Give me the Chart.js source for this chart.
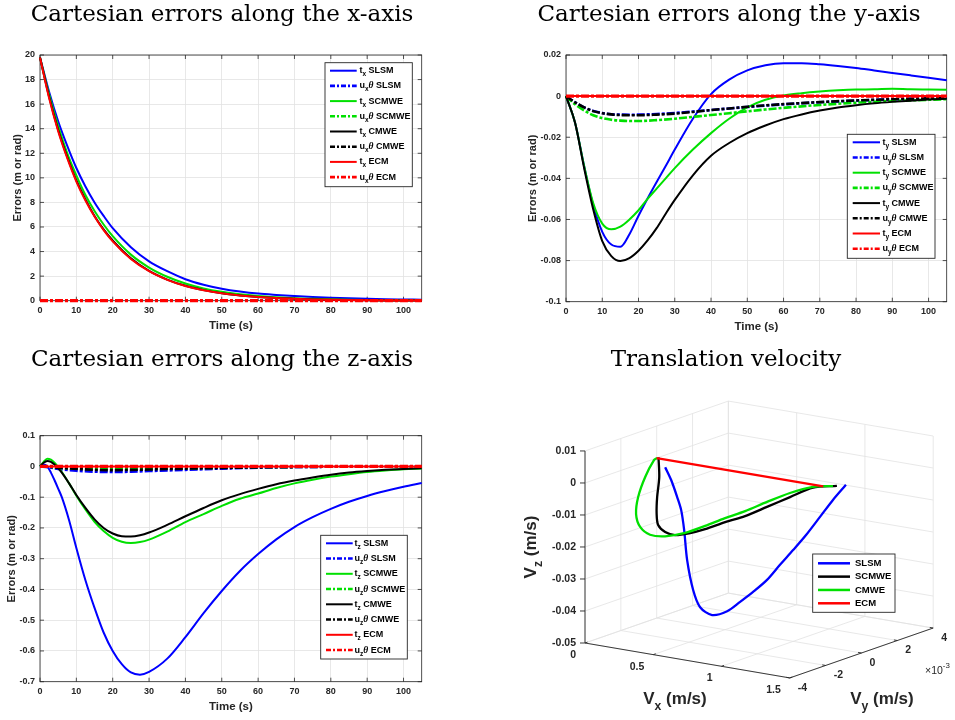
<!DOCTYPE html>
<html><head><meta charset="utf-8">
<script src="https://cdn.jsdelivr.net/npm/chart.js@4.4.1/dist/chart.umd.min.js"></script>
<style>
html,body{margin:0;padding:0;background:#fff}
#wrap{position:relative;width:955px;height:720px;overflow:hidden;background:#fff}
canvas{position:absolute}
</style></head><body><div id="wrap">
<canvas id="c1" width="477" height="340" style="left:0;top:0"></canvas>
<canvas id="c2" width="478" height="340" style="left:477px;top:0"></canvas>
<canvas id="c3" width="477" height="380" style="left:0;top:340px"></canvas>
<canvas id="c4" width="478" height="380" style="left:477px;top:340px"></canvas>
</div>
<script>
// ---------------- DATA ----------------
const timeTicks = [0,10,20,30,40,50,60,70,80,90,100];
const uTimeFlat = [0,105];

// Panel 1: errors along x
const errXTicks = [0,2,4,6,8,10,12,14,16,18,20];
const timeX = [0,2.5,5,7.5,10,12.5,15,17.5,20,25,30,35,40,45,50,55,60,65,70,75,80,85,90,95,100,105];
const tx_SLSM  = [19.8,17.0,14.6,12.6,10.8,9.3,8.0,6.9,5.9,4.35,3.2,2.4,1.75,1.3,0.98,0.75,0.58,0.47,0.38,0.30,0.24,0.19,0.15,0.12,0.10,0.08];
const tx_SCMWE = [19.8,16.8,14.2,12.0,10.2,8.6,7.3,6.2,5.25,3.75,2.7,1.95,1.4,1.0,0.72,0.52,0.38,0.28,0.20,0.15,0.11,0.08,0.06,0.045,0.035,0.03];
const tx_CMWE  = [19.8,16.6,13.9,11.7,9.8,8.25,6.9,5.8,4.9,3.45,2.43,1.72,1.21,0.86,0.6,0.43,0.3,0.21,0.15,0.105,0.075,0.053,0.037,0.026,0.019,0.013];
const tx_ECM   = [19.8,16.5,13.8,11.6,9.7,8.15,6.85,5.75,4.83,3.4,2.4,1.7,1.2,0.85,0.6,0.43,0.3,0.21,0.15,0.105,0.075,0.053,0.037,0.026,0.019,0.013];
const ux_SLSM  = [0,0];
const ux_SCMWE = [0,0];
const ux_CMWE  = [0,0];
const ux_ECM   = [0,0];

// Panel 2: errors along y
const errYTicks = [-0.1,-0.08,-0.06,-0.04,-0.02,0,0.02];
const timeY = [0,2.5,5,7.5,10,12.5,15,17.5,20,22.5,25,27.5,30,35,40,45,50,55,60,65,70,75,80,85,90,95,100,105];
const ty_SLSM  = [0,-0.013,-0.034,-0.053,-0.066,-0.0722,-0.0733,-0.0672,-0.0582,-0.0498,-0.0418,-0.034,-0.026,-0.011,0.001,0.008,0.0125,0.015,0.016,0.016,0.0155,0.0147,0.0137,0.0125,0.0113,0.0101,0.0089,0.0077];
const ty_SCMWE = [0,-0.013,-0.034,-0.052,-0.062,-0.0648,-0.0635,-0.06,-0.0555,-0.05,-0.045,-0.04,-0.035,-0.026,-0.018,-0.011,-0.0055,-0.0018,0.0003,0.0014,0.0022,0.0028,0.0032,0.0033,0.0036,0.0033,0.0032,0.0031];
const ty_CMWE  = [0,-0.013,-0.035,-0.055,-0.0705,-0.0778,-0.0802,-0.0788,-0.0752,-0.0702,-0.0642,-0.0572,-0.0505,-0.0385,-0.029,-0.0228,-0.018,-0.0143,-0.0112,-0.0089,-0.007,-0.0055,-0.0044,-0.0035,-0.0028,-0.0022,-0.0017,-0.0013];
const ty_ECM   = [0,0];
const timeUY = [0,2.5,5,7.5,10,12.5,15,17.5,20,25,30,35,40,45,50,55,60,70,80,90,100,105];
const uy_SLSM  = [0,-0.003,-0.0055,-0.0072,-0.0082,-0.0088,-0.009,-0.0091,-0.009,-0.0087,-0.0082,-0.0075,-0.0068,-0.006,-0.0053,-0.0046,-0.004,-0.003,-0.0022,-0.0016,-0.0012,-0.001];
const uy_SCMWE = [0,-0.004,-0.007,-0.0093,-0.0107,-0.0115,-0.0119,-0.0121,-0.0121,-0.0117,-0.011,-0.0101,-0.0092,-0.0083,-0.0074,-0.0065,-0.0057,-0.0043,-0.0032,-0.0024,-0.0018,-0.0015];
const uy_CMWE  = [0,-0.003,-0.0055,-0.0073,-0.0083,-0.0089,-0.0092,-0.0093,-0.0093,-0.009,-0.0085,-0.0077,-0.0068,-0.006,-0.0052,-0.0045,-0.0039,-0.0029,-0.0021,-0.0015,-0.0011,-0.0009];
const uy_ECM   = [0,0];

// Panel 3: errors along z
const errZTicks = [-0.7,-0.6,-0.5,-0.4,-0.3,-0.2,-0.1,0,0.1];
const timeZ = [0,1,2,3,4,5,6,8,10,12.5,15,17.5,20,22.5,25,27.5,30,35,40,45,50,55,60,65,70,75,80,85,90,95,100,105];
const tz_SLSM  = [0,0.006,0.0,-0.02,-0.045,-0.072,-0.1,-0.175,-0.265,-0.37,-0.46,-0.54,-0.6,-0.643,-0.67,-0.677,-0.668,-0.625,-0.555,-0.477,-0.405,-0.34,-0.285,-0.237,-0.197,-0.165,-0.138,-0.115,-0.096,-0.08,-0.066,-0.054];
const tz_SCMWE = [0,0.015,0.025,0.022,0.012,-0.002,-0.018,-0.055,-0.095,-0.14,-0.18,-0.21,-0.232,-0.245,-0.249,-0.246,-0.238,-0.212,-0.181,-0.155,-0.128,-0.105,-0.088,-0.07,-0.055,-0.043,-0.033,-0.025,-0.018,-0.013,-0.009,-0.007];
const tz_CMWE  = [0,0.012,0.018,0.015,0.006,-0.006,-0.02,-0.055,-0.093,-0.135,-0.172,-0.2,-0.218,-0.227,-0.228,-0.224,-0.215,-0.19,-0.162,-0.135,-0.11,-0.09,-0.073,-0.058,-0.046,-0.036,-0.027,-0.02,-0.015,-0.011,-0.008,-0.006];
const tz_ECM   = [0,0];
const timeUZ = [0,2.5,5,10,15,20,25,30,40,50,60,70,80,90,105];
const uz_SLSM  = [0,-0.003,-0.008,-0.014,-0.017,-0.018,-0.017,-0.015,-0.011,-0.007,-0.004,-0.002,-0.001,0,0];
const uz_SCMWE = [0,-0.001,-0.004,-0.007,-0.0085,-0.009,-0.0088,-0.008,-0.006,-0.004,-0.002,-0.0012,-0.0006,-0.0002,0];
const uz_CMWE  = [0,-0.001,-0.004,-0.008,-0.011,-0.012,-0.011,-0.01,-0.007,-0.005,-0.003,-0.002,-0.001,0,0];
const uz_ECM   = [0,0];

// Panel 4: translation velocity (3D)
const vxTicks = [0,0.5,1,1.5];
const vyTicks = [-0.004,-0.002,0,0.002,0.004];
const vzTicks = [-0.05,-0.04,-0.03,-0.02,-0.01,0,0.01];
const vSLSM_x = [1.386,1.291,1.196,1.094,0.999,0.903,0.808,0.706,0.611,0.516,0.406,0.318,0.267,0.223,0.201,0.179,0.150,0.106,0.062];
const vSLSM_y = [0,0,0,0,0,0,0,0,0,0,0,0,0,0,0,0,0,0,0];
const vSLSM_z = [0.0017,-0.0037,-0.0097,-0.0161,-0.0215,-0.0268,-0.0322,-0.0367,-0.0405,-0.0441,-0.0461,-0.0443,-0.0393,-0.0303,-0.0210,-0.0149,-0.0111,-0.0061,-0.0024];
const vSCMWE_x = [1.32,1.15,0.99,0.83,0.68,0.55,0.42,0.32,0.22,0.15,0.1,0.065,0.04,0.02,0];
const vSCMWE_y = [0,-0.00004,-0.0001,-0.00017,-0.00025,-0.00037,-0.0005,-0.00057,-0.00065,-0.00067,-0.00068,-0.0005,-0.00028,-0.00001,0.0001];
const vSCMWE_z = [0.0009,-0.0008,-0.0048,-0.0089,-0.0127,-0.0153,-0.0182,-0.0200,-0.0212,-0.0207,-0.0189,-0.0158,-0.0114,-0.0058,0.0];
const vCMWE_x = [1.29,1.15,1.0,0.85,0.7,0.57,0.45,0.33,0.23,0.16,0.11,0.08,0.055,0.03,0.01,0];
const vCMWE_y = [0.00001,-0.00004,-0.00018,-0.00032,-0.0004,-0.00053,-0.00073,-0.00093,-0.00128,-0.00159,-0.00176,-0.00176,-0.00145,-0.00087,-0.00022,0.00003];
const vCMWE_z = [0.0006,-0.0006,-0.0033,-0.0069,-0.0107,-0.0136,-0.0165,-0.0192,-0.0203,-0.0197,-0.0173,-0.0135,-0.0089,-0.0040,-0.0001,0];
const vECM_x = [1.22,0];
const vECM_y = [0,0];
const vECM_z = [0,0];

// ---------------- STYLE ----------------
const FONT = '"Liberation Sans", Arial, sans-serif';
const SERIF = '"DejaVu Serif", serif';
const TXT = '#262626';
const GRID = '#e2e2e2';
const BLUE = '#0000ff', GREEN = '#00e000', BLACK = '#000000', RED = '#ff0000';
const DASHDOT = [8,2,3,2];
Chart.defaults.font.family = FONT;

function pts(t, v) { return t.map((x, i) => ({x: x, y: v[i]})); }

function partFont(kind, size) {
  if (kind === 'sub') return 'bold ' + (size * 0.72).toFixed(1) + 'px ' + FONT;
  if (kind === 'it') return 'italic bold ' + (size + 0.5) + 'px "Liberation Serif", serif';
  if (kind === 'sup') return (size * 0.75).toFixed(1) + 'px ' + FONT;
  if (kind === 'plain') return size + 'px ' + FONT;
  return 'bold ' + size + 'px ' + FONT;
}
function partsWidth(ctx, parts, size) {
  let w = 0;
  parts.forEach(p => { ctx.font = partFont(p[1], size); w += ctx.measureText(p[0]).width; });
  return w;
}
function drawParts(ctx, parts, x, y, size) {
  parts.forEach(p => {
    ctx.font = partFont(p[1], size);
    let yy = y;
    if (p[1] === 'sub') yy = y + size * 0.42;
    if (p[1] === 'sup') yy = y - size * 0.45;
    ctx.fillText(p[0], x, yy);
    x += ctx.measureText(p[0]).width;
  });
}

const extras = {};

const titlePlugin = {
  id: 'mlTitle',
  afterDraw(chart) {
    const e = extras[chart.canvas.id]; if (!e || !e.title) return;
    const ctx = chart.ctx; ctx.save();
    ctx.font = '23px ' + SERIF; ctx.fillStyle = '#000';
    ctx.textAlign = 'center'; ctx.textBaseline = 'alphabetic';
    ctx.fillText(e.title.text, e.title.x, e.title.y);
    ctx.restore();
  }
};

const boxPlugin = {
  id: 'mlBox',
  beforeDatasetsDraw(chart) {
    const e = extras[chart.canvas.id]; if (!e || !e.box) return;
    const ctx = chart.ctx, a = chart.chartArea, sx = chart.scales.x, sy = chart.scales.y;
    ctx.save();
    ctx.strokeStyle = TXT; ctx.lineWidth = 0.8;
    ctx.strokeRect(a.left, a.top, a.right - a.left, a.bottom - a.top);
    ctx.beginPath();
    sx.ticks.forEach(t => { const p = sx.getPixelForValue(t.value);
      ctx.moveTo(p, a.bottom); ctx.lineTo(p, a.bottom - 4); ctx.moveTo(p, a.top); ctx.lineTo(p, a.top + 4); });
    sy.ticks.forEach(t => { const p = sy.getPixelForValue(t.value);
      ctx.moveTo(a.left, p); ctx.lineTo(a.left + 4, p); ctx.moveTo(a.right, p); ctx.lineTo(a.right - 4, p); });
    ctx.stroke();
    ctx.restore();
  }
};

const legendPlugin = {
  id: 'mlLegend',
  afterDraw(chart) {
    const e = extras[chart.canvas.id]; if (!e || !e.legend) return;
    const L = e.legend, ctx = chart.ctx;
    ctx.save();
    const [l, t, r, b] = L.box;
    ctx.fillStyle = '#fff'; ctx.fillRect(l, t, r - l, b - t);
    ctx.strokeStyle = TXT; ctx.lineWidth = 0.9; ctx.strokeRect(l, t, r - l, b - t);
    L.rows.forEach((row, i) => {
      const y = L.y0 + i * L.dy;
      ctx.beginPath(); ctx.setLineDash(row.dash || []);
      ctx.strokeStyle = row.color; ctx.lineWidth = row.w;
      ctx.moveTo(L.lx0, y); ctx.lineTo(L.lx1, y); ctx.stroke(); ctx.setLineDash([]);
      ctx.fillStyle = '#000'; ctx.textAlign = 'left'; ctx.textBaseline = 'middle';
      drawParts(ctx, row.parts, L.tx, y, L.size);
    });
    ctx.restore();
  }
};

function lbl(kind, axis, name) {
  if (kind === 't') return [['t', 'n'], [axis, 'sub'], [' ' + name, 'n']];
  return [['u', 'n'], [axis, 'sub'], ['\u03B8', 'it'], [' ' + name, 'n']];
}

function panel2D(id, o) {
  const n = o.series.length;
  const datasets = o.series.map((s, i) => ({
    data: pts(s.t, s.v), borderColor: s.c, borderWidth: s.w, borderDash: s.d || [],
    pointRadius: 0, cubicInterpolationMode: 'monotone', fill: false, order: n - i, clip: 3
  }));
  extras[id] = {
    title: o.title, box: true,
    legend: Object.assign({}, o.legend, {
      rows: o.series.map(s => ({color: s.c, w: s.d ? 2.6 : 2, dash: s.d ? [5,2,2,2] : [], parts: lbl(s.kind, o.axis, s.name)}))
    })
  };
  const tickFont = {family: FONT, size: 9, weight: 'bold'};
  return new Chart(document.getElementById(id), {
    type: 'line',
    data: {datasets},
    options: {
      responsive: false, animation: false, events: [],
      layout: {padding: o.pad},
      plugins: {legend: {display: false}, tooltip: {enabled: false}},
      scales: {
        x: {
          type: 'linear', min: 0, max: 105,
          afterBuildTicks: s => { s.ticks = timeTicks.map(v => ({value: v})); },
          afterFit: s => { s.height = 32; },
          ticks: {padding: 4, font: tickFont, color: TXT, maxRotation: 0, autoSkip: false},
          grid: {color: GRID, drawTicks: false, lineWidth: 0.8},
          border: {display: false},
          title: {display: true, text: 'Time (s)', color: TXT, font: {family: FONT, size: 11.5, weight: 'bold'}, padding: 0}
        },
        y: {
          type: 'linear', min: o.yMin, max: o.yMax,
          afterBuildTicks: s => { s.ticks = o.yTicks.map(v => ({value: v})); },
          afterFit: s => { s.width = o.yW; },
          ticks: {padding: 5, font: tickFont, color: TXT, autoSkip: false, callback: v => String(+(+v).toFixed(4))},
          grid: {color: GRID, drawTicks: false, lineWidth: 0.8},
          border: {display: false},
          title: {display: true, text: 'Errors (m or rad)', color: TXT, font: {family: FONT, size: 11, weight: 'bold'}, padding: 0}
        }
      }
    },
    plugins: [boxPlugin, legendPlugin, titlePlugin]
  });
}

function seriesSet(T, tS, tG, tK, tR, UT, uS, uG, uK, uR, UTr) {
  return [
    {kind: 't', name: 'SLSM', t: T, v: tS, c: BLUE, w: 2},
    {kind: 'u', name: 'SLSM', t: UT, v: uS, c: BLUE, w: 2.6, d: DASHDOT},
    {kind: 't', name: 'SCMWE', t: T, v: tG, c: GREEN, w: 2},
    {kind: 'u', name: 'SCMWE', t: UT, v: uG, c: GREEN, w: 2.6, d: DASHDOT},
    {kind: 't', name: 'CMWE', t: T, v: tK, c: BLACK, w: 2},
    {kind: 'u', name: 'CMWE', t: UT, v: uK, c: BLACK, w: 2.6, d: DASHDOT},
    {kind: 't', name: 'ECM', t: tR.length === 2 ? uTimeFlat : T, v: tR, c: RED, w: 2},
    {kind: 'u', name: 'ECM', t: UTr, v: uR, c: RED, w: 3.2, d: DASHDOT}
  ];
}

panel2D('c1', {
  axis: 'x', yMin: 0, yMax: 20, yTicks: errXTicks, yW: 29,
  pad: {left: 11, top: 55, right: 55.3, bottom: 7.3},
  title: {text: 'Cartesian errors along the x-axis', x: 222, y: 21},
  series: seriesSet(timeX, tx_SLSM, tx_SCMWE, tx_CMWE, tx_ECM, uTimeFlat, ux_SLSM, ux_SCMWE, ux_CMWE, ux_ECM, uTimeFlat),
  legend: {box: [325, 62.7, 412.3, 186.7], y0: 70.7, dy: 15.2, lx0: 330, lx1: 356.7, tx: 359.5, size: 9}
});

panel2D('c2', {
  axis: 'y', yMin: -0.1, yMax: 0.02, yTicks: errYTicks, yW: 39.6,
  pad: {left: 49.4, top: 55, right: 8.3, bottom: 6.3},
  title: {text: 'Cartesian errors along the y-axis', x: 252, y: 21},
  series: seriesSet(timeY, ty_SLSM, ty_SCMWE, ty_CMWE, ty_ECM, timeUY, uy_SLSM, uy_SCMWE, uy_CMWE, uy_ECM, uTimeFlat),
  legend: {box: [370.3, 134.3, 458, 258.3], y0: 142.3, dy: 15.2, lx0: 375.7, lx1: 403, tx: 405.5, size: 9}
});

panel2D('c3', {
  axis: 'z', yMin: -0.7, yMax: 0.1, yTicks: errZTicks, yW: 34.9,
  pad: {left: 5.1, top: 95.7, right: 55.3, bottom: 6.3},
  title: {text: 'Cartesian errors along the z-axis', x: 222, y: 26},
  series: seriesSet(timeZ, tz_SLSM, tz_SCMWE, tz_CMWE, tz_ECM, timeUZ, uz_SLSM, uz_SCMWE, uz_CMWE, uz_ECM, uTimeFlat),
  legend: {box: [320.7, 195.3, 407.3, 319], y0: 203.3, dy: 15.25, lx0: 326, lx1: 352.7, tx: 354.5, size: 9}
});

// ---------------- 3D panel ----------------
const VIEW_AZ = 35, VIEW_EL = 14.1, BOX_ASPECT = [1, 1, 0.792];
const VX = [0, 1.5], VY = [-0.004, 0.004], VZ = [-0.05, 0.01];
function proj(vx, vy, vz) {
  const xn = (vx - VX[0]) / (VX[1] - VX[0]) * BOX_ASPECT[0];
  const yn = (vy - VY[0]) / (VY[1] - VY[0]) * BOX_ASPECT[1];
  const zn = (vz - VZ[0]) / (VZ[1] - VZ[0]) * BOX_ASPECT[2];
  const a = VIEW_AZ * Math.PI / 180, e = VIEW_EL * Math.PI / 180;
  return {x: xn * Math.cos(a) + yn * Math.sin(a),
          y: -Math.sin(e) * (xn * Math.sin(a) - yn * Math.cos(a)) + Math.cos(e) * zn};
}
const ds4 = [];
function line3(list, color, width, order, tension) {
  ds4.push({data: list.map(p => proj(p[0], p[1], p[2])), borderColor: color, borderWidth: width,
    showLine: true, pointRadius: 0, tension: tension || 0, order: order, fill: false});
}
// floor grid
vxTicks.forEach(v => line3([[v, VY[0], VZ[0]], [v, VY[1], VZ[0]]], GRID, 0.8, 100));
vyTicks.forEach(v => line3([[VX[0], v, VZ[0]], [VX[1], v, VZ[0]]], GRID, 0.8, 100));
// back wall x = min
vyTicks.forEach(v => line3([[VX[0], v, VZ[0]], [VX[0], v, VZ[1]]], GRID, 0.8, 100));
vzTicks.forEach(v => line3([[VX[0], VY[0], v], [VX[0], VY[1], v]], GRID, 0.8, 100));
// back wall y = max
vxTicks.forEach(v => line3([[v, VY[1], VZ[0]], [v, VY[1], VZ[1]]], GRID, 0.8, 100));
vzTicks.forEach(v => line3([[VX[0], VY[1], v], [VX[1], VY[1], v]], GRID, 0.8, 100));
// axes
line3([[VX[0], VY[0], VZ[0]], [VX[1], VY[0], VZ[0]]], TXT, 0.9, 90);
line3([[VX[1], VY[0], VZ[0]], [VX[1], VY[1], VZ[0]]], TXT, 0.9, 90);
line3([[VX[0], VY[0], VZ[0]], [VX[0], VY[0], VZ[1]]], TXT, 0.9, 90);
// tick marks
vxTicks.forEach(v => line3([[v, VY[0], VZ[0]], [v, VY[0] + 0.00014, VZ[0]]], TXT, 0.9, 90));
vyTicks.forEach(v => line3([[VX[1], v, VZ[0]], [VX[1] - 0.025, v, VZ[0]]], TXT, 0.9, 90));
// curves (last plotted on top)
const zip3 = (a, b, c) => a.map((x, i) => [x, b[i], c[i]]);
line3(zip3(vSLSM_x, vSLSM_y, vSLSM_z), BLUE, 2.3, 4, 0.3);
line3(zip3(vSCMWE_x, vSCMWE_y, vSCMWE_z), BLACK, 2.3, 3, 0.3);
line3(zip3(vCMWE_x, vCMWE_y, vCMWE_z), GREEN, 2.3, 2, 0.3);
line3(zip3(vECM_x, vECM_y, vECM_z), RED, 2.3, 1, 0);

const P4_ORIGIN = {x: 108, y: 303}, P4_PPU = 250, P4_W = 478, P4_H = 380;

const axes3Plugin = {
  id: 'axes3',
  afterDraw(chart) {
    const ctx = chart.ctx, sx = chart.scales.x, sy = chart.scales.y;
    const pix = p => ({x: sx.getPixelForValue(p.x), y: sy.getPixelForValue(p.y)});
    ctx.save();
    ctx.fillStyle = TXT; ctx.textBaseline = 'middle';
    ctx.font = 'bold 10.5px ' + FONT;
    ctx.strokeStyle = TXT; ctx.lineWidth = 0.9;
    vzTicks.forEach(v => {
      const q = pix(proj(VX[0], VY[0], v));
      ctx.beginPath(); ctx.moveTo(q.x, q.y); ctx.lineTo(q.x - 5, q.y); ctx.stroke();
      ctx.textAlign = 'right'; ctx.fillText(String(+v.toFixed(3)), q.x - 9, q.y);
    });
    vxTicks.forEach(v => {
      const q = pix(proj(v, VY[0], VZ[0]));
      ctx.textAlign = 'right'; ctx.fillText(String(v), q.x - 9, q.y + 12);
    });
    vyTicks.forEach(v => {
      const q = pix(proj(VX[1], v, VZ[0]));
      ctx.textAlign = 'left'; ctx.fillText(String(Math.round(v * 1000)), q.x + 8, q.y + 10);
    });
    ctx.textAlign = 'left';
    drawParts(ctx, [['\u00D710', 'plain'], ['-3', 'sup']], 448, 331, 10.5);
    const vxl = [['V', 'n'], ['x', 'sub'], [' (m/s)', 'n']];
    const vyl = [['V', 'n'], ['y', 'sub'], [' (m/s)', 'n']];
    const vzl = [['V', 'n'], ['z', 'sub'], [' (m/s)', 'n']];
    ctx.fillStyle = TXT;
    let w = partsWidth(ctx, vxl, 17); drawParts(ctx, vxl, 198 - w / 2, 359, 17);
    w = partsWidth(ctx, vyl, 17); drawParts(ctx, vyl, 405 - w / 2, 359, 17);
    ctx.save(); ctx.translate(54, 207); ctx.rotate(-Math.PI / 2);
    w = partsWidth(ctx, vzl, 17); drawParts(ctx, vzl, -w / 2, 0, 17);
    ctx.restore();
    const rows = [['SLSM', BLUE], ['SCMWE', BLACK], ['CMWE', GREEN], ['ECM', RED]];
    ctx.fillStyle = '#fff'; ctx.fillRect(335.7, 214, 82.3, 58.3);
    ctx.strokeStyle = TXT; ctx.lineWidth = 0.9; ctx.strokeRect(335.7, 214, 82.3, 58.3);
    rows.forEach((r, i) => {
      const y = 223.3 + i * 13.33;
      ctx.beginPath(); ctx.strokeStyle = r[1]; ctx.lineWidth = 2.5; ctx.moveTo(341, y); ctx.lineTo(373, y); ctx.stroke();
      ctx.fillStyle = '#000'; ctx.font = 'bold 9.5px ' + FONT; ctx.textAlign = 'left';
      ctx.fillText(r[0], 378, y);
    });
    ctx.restore();
  }
};

extras['c4'] = {title: {text: 'Translation velocity', x: 249, y: 26}};
new Chart(document.getElementById('c4'), {
  type: 'scatter',
  data: {datasets: ds4},
  options: {
    responsive: false, animation: false, events: [],
    layout: {padding: 0},
    plugins: {legend: {display: false}, tooltip: {enabled: false}},
    scales: {
      x: {type: 'linear', display: false, min: -P4_ORIGIN.x / P4_PPU, max: (P4_W - P4_ORIGIN.x) / P4_PPU},
      y: {type: 'linear', display: false, min: -(P4_H - P4_ORIGIN.y) / P4_PPU, max: P4_ORIGIN.y / P4_PPU}
    }
  },
  plugins: [axes3Plugin, titlePlugin]
});
</script>
</body></html>
